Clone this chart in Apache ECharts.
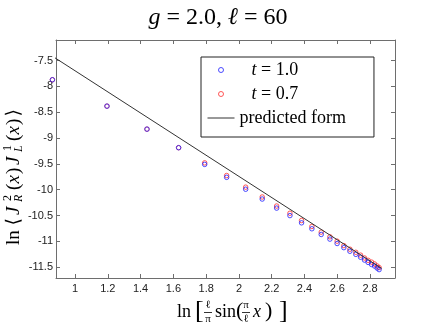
<!DOCTYPE html>
<html>
<head>
<meta charset="utf-8">
<script src="https://cdn.jsdelivr.net/npm/echarts@6/dist/echarts.min.js"></script>
<style>
  html, body { margin: 0; padding: 0; background: #fff; }
  #main { width: 436px; height: 329px; }
</style>
</head>
<body>
<div id="main"></div>
<script>
// values
var xVals = [0.862, 1.195, 1.439, 1.632, 1.791, 1.925, 2.041, 2.142, 2.230, 2.311, 2.382, 2.445, 2.502,
             2.555, 2.599, 2.640, 2.677, 2.713, 2.742, 2.766, 2.788, 2.809, 2.827, 2.843, 2.855];
var t10 = [-7.873, -8.383, -8.828, -9.187, -9.51, -9.76, -9.99, -10.18, -10.355, -10.50, -10.64, -10.755, -10.865,
           -10.955, -11.04, -11.12, -11.19, -11.25, -11.305, -11.36, -11.405, -11.445, -11.475, -11.515, -11.545];
var t07 = [-7.873, -8.383, -8.828, -9.187, -9.48, -9.725, -9.95, -10.14, -10.315, -10.455, -10.595, -10.71, -10.82,
           -10.91, -10.995, -11.08, -11.15, -11.21, -11.265, -11.32, -11.365, -11.40, -11.435, -11.475, -11.505];
var lineX = [0.80, 2.87];
var lineY = [-7.29, -11.52];
var xTicks = [1, 1.2, 1.4, 1.6, 1.8, 2, 2.2, 2.4, 2.6, 2.8];
var yTicks = [-11.5, -11, -10.5, -10, -9.5, -9, -8.5, -8, -7.5];

var serif = "'Liberation Serif', 'DejaVu Serif', serif";
var sans = "'Liberation Sans', Arial, sans-serif";
var frame = '#6e6e6e';

function pairs(xs, ys) {
  return xs.map(function (x, i) { return [x, ys[i]]; });
}

function txt(x, y, s, size, extra) {
  var st = { text: s, fontFamily: serif, fontSize: size, fill: '#000', verticalAlign: 'middle' };
  if (extra) for (var k in extra) st[k] = extra[k];
  return { type: 'text', x: x, y: y, style: st };
}

var myChart = echarts.init(document.getElementById('main'));

var axisCommon = {
  type: 'value',
  axisLine: { show: true, lineStyle: { color: frame, width: 1 } },
  splitLine: { show: false }
};

var option = {
  animation: false,
  backgroundColor: '#fff',
  title: {
    text: '{i|g} = 2.0, {i|ℓ} = 60',
    left: 'center',
    top: 1,
    textStyle: {
      fontFamily: serif, fontSize: 24, fontWeight: 'normal', color: '#000',
      rich: { i: { fontFamily: serif, fontSize: 24, fontStyle: 'italic' } }
    }
  },
  grid: { left: 56, right: 41, top: 40, bottom: 51 },
  legend: {
    orient: 'vertical',
    left: 201, top: 57,
    padding: [3, 28, 9, 6],
    borderColor: '#222', borderWidth: 1,
    backgroundColor: '#fff',
    itemWidth: 27, itemHeight: 5, itemGap: 4,
    textStyle: {
      fontFamily: serif, fontSize: 18, color: '#000', lineHeight: 20,
      rich: {
        sp: { width: 12 },
        i: { fontFamily: serif, fontSize: 18, fontStyle: 'italic', lineHeight: 20 },
        n: { fontFamily: serif, fontSize: 18, lineHeight: 20 }
      }
    },
    formatter: function (name) {
      if (name.charAt(0) === 't') return '{sp|}{i|t}{n|' + name.slice(1) + '}';
      return name;
    },
    data: [
      { name: 't = 1.0', icon: 'circle', itemStyle: { color: 'rgba(0,0,0,0)', borderColor: '#2020ff', borderWidth: 1 } },
      { name: 't = 0.7', icon: 'circle', itemStyle: { color: 'rgba(0,0,0,0)', borderColor: '#ff3030', borderWidth: 1 } },
      { name: 'predicted form', itemStyle: { opacity: 0 }, lineStyle: { color: '#333', width: 1, opacity: 1 } }
    ]
  },
  xAxis: [
    Object.assign({}, axisCommon, {
      min: 0.884, max: 2.952,
      axisTick: { show: true, inside: true, length: 4, customValues: xTicks, lineStyle: { color: frame } },
      axisLabel: {
        customValues: xTicks, margin: 5,
        fontFamily: sans, fontSize: 11, color: '#222',
        formatter: function (v) { return String(+v.toFixed(1)); }
      }
    }),
    Object.assign({}, axisCommon, {
      position: 'top', min: 0.884, max: 2.952,
      axisTick: { show: true, inside: true, length: 4, customValues: xTicks, lineStyle: { color: frame } },
      axisLabel: { show: false }
    })
  ],
  yAxis: [
    Object.assign({}, axisCommon, {
      min: -11.707, max: -7.104,
      axisTick: { show: true, inside: true, length: 4, customValues: yTicks, lineStyle: { color: frame } },
      axisLabel: {
        customValues: yTicks, margin: 3,
        fontFamily: sans, fontSize: 11, color: '#222',
        formatter: function (v) { return String(+v.toFixed(1)); }
      }
    }),
    Object.assign({}, axisCommon, {
      position: 'right', min: -11.707, max: -7.104,
      axisTick: { show: true, inside: true, length: 4, customValues: yTicks, lineStyle: { color: frame } },
      axisLabel: { show: false }
    })
  ],
  series: [
    {
      name: 't = 1.0', type: 'scatter', clip: false,
      symbol: 'circle', symbolSize: 4.5,
      itemStyle: { color: 'rgba(0,0,0,0)', borderColor: '#2020ff', borderWidth: 1 },
      data: pairs(xVals, t10), z: 3
    },
    {
      name: 't = 0.7', type: 'scatter', clip: false,
      symbol: 'circle', symbolSize: 4.5,
      itemStyle: { color: 'rgba(0,0,0,0)', borderColor: '#ff3030', borderWidth: 1 },
      data: pairs(xVals, t07), z: 2
    },
    {
      name: 'predicted form', type: 'line', clip: false,
      symbol: 'none', showSymbol: false, color: '#333',
      lineStyle: { color: '#333', width: 1 },
      data: pairs(lineX, lineY), z: 4
    }
  ],
  graphic: [
    {
      // x axis name: ln[ (l/pi) sin( (pi/l) x ) ]
      type: 'group',
      children: [
        txt(177, 312, 'ln', 18),
        txt(195, 311, '[', 26),
        txt(208, 305, 'ℓ', 11, { align: 'center' }),
        { type: 'line', shape: { x1: 204, y1: 312.5, x2: 212, y2: 312.5 }, style: { stroke: '#000', lineWidth: 0.8 } },
        txt(208, 319, 'π', 11, { align: 'center' }),
        txt(215, 312, 'sin', 18),
        txt(236, 311, '(', 22),
        txt(246, 305, 'π', 11, { align: 'center' }),
        { type: 'line', shape: { x1: 242, y1: 312.5, x2: 250, y2: 312.5 }, style: { stroke: '#000', lineWidth: 0.8 } },
        txt(246, 319, 'ℓ', 11, { align: 'center' }),
        txt(253, 312, 'x', 18, { fontStyle: 'italic' }),
        txt(265, 311, ')', 22),
        txt(279, 311, ']', 26)
      ]
    },
    {
      // y axis name: ln<J_R^2(x) J_L^1(x)>
      type: 'group',
      x: 14, y: 245,
      rotation: Math.PI / 2,
      children: [
        txt(0, 0, 'ln', 19),
        txt(19.5, 0, '⟨', 19),
        txt(30, 0, 'J', 19, { fontStyle: 'italic' }),
        txt(44, -6, '2', 12),
        txt(43, 5, 'R', 12, { fontStyle: 'italic' }),
        txt(55, 0, '(', 19),
        txt(61.5, 0, 'x', 19, { fontStyle: 'italic' }),
        txt(71, 0, ')', 19),
        txt(80, 0, 'J', 19, { fontStyle: 'italic' }),
        txt(94, -6, '1', 12),
        txt(93, 5, 'L', 12, { fontStyle: 'italic' }),
        txt(104, 0, '(', 19),
        txt(110.5, 0, 'x', 19, { fontStyle: 'italic' }),
        txt(120, 0, ')', 19),
        txt(128.5, 0, '⟩', 19)
      ]
    }
  ]
};

myChart.setOption(option);
</script>
</body>
</html>
